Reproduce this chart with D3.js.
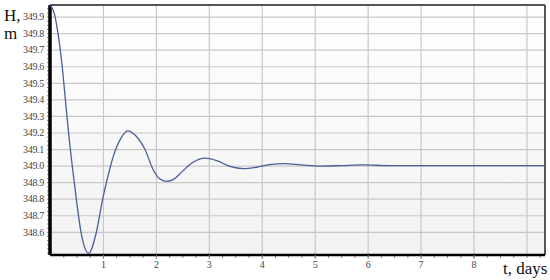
<!DOCTYPE html>
<html>
<head>
<meta charset="utf-8">
<script src="https://cdn.jsdelivr.net/npm/d3@7"></script>
<style>
  body { margin: 0; background: #fff; }
  svg { display: block; }
</style>
</head>
<body>
<svg id="plot"></svg>
<script>
// water level H (m) vs time t (days)
var days = [0, 0.08, 0.15, 0.23, 0.29, 0.35, 0.42, 0.50, 0.59, 0.73, 0.87, 0.99, 1.09, 1.2, 1.33, 1.47,
            1.62, 1.79, 1.95, 2.07, 2.2, 2.35, 2.5, 2.7, 2.93, 3.15, 3.4, 3.65, 3.9, 4.15, 4.42,
            4.75, 5.1, 5.5, 5.9, 6.4, 7, 8, 9.35];
var level = [349.97, 349.92, 349.80, 349.60, 349.40, 349.20, 349.00, 348.79, 348.59, 348.47, 348.59, 348.79, 348.93, 349.06, 349.16, 349.21,
             349.18, 349.10, 348.975, 348.92, 348.905, 348.92, 348.965, 349.02, 349.045, 349.03, 348.995, 348.982, 348.99, 349.006, 349.012,
             349.004, 348.997, 349.0, 349.004, 349.0, 349.0, 349.0, 349.0];
var xGrid = [1, 2, 3, 4, 5, 6, 7, 8, 9];
var xLabels = [1, 2, 3, 4, 5, 6, 7, 8];
var yTicks = [348.6, 348.7, 348.8, 348.9, 349.0, 349.1, 349.2, 349.3, 349.4, 349.5, 349.6, 349.7, 349.8, 349.9];

var w = 550, h = 280;
var mLeft = 50, mRight = 545, mTop = 5, mBottom = 255;

var svg = d3.select("#plot").attr("width", w).attr("height", h);

var xScale = d3.scaleLinear().domain([0, 9.35]).range([mLeft, mRight]);
var yScale = d3.scaleLinear().domain([348.46, 349.97]).range([mBottom, mTop]);

// plot background
var grad = svg.append("defs").append("linearGradient")
  .attr("id", "bg").attr("x1", 0).attr("y1", 0).attr("x2", 0).attr("y2", 1);
grad.append("stop").attr("offset", "0%").attr("stop-color", "#ffffff");
grad.append("stop").attr("offset", "100%").attr("stop-color", "#f2f2f2");
svg.append("rect")
  .attr("x", mLeft).attr("y", mTop)
  .attr("width", mRight - mLeft).attr("height", mBottom - mTop)
  .attr("fill", "url(#bg)");

// grid
svg.append("g").attr("class", "grid")
  .attr("transform", "translate(0," + mBottom + ")")
  .call(d3.axisBottom(xScale).tickValues(xGrid).tickSize(-(mBottom - mTop)).tickFormat(""))
  .call(function(g) {
    g.select(".domain").remove();
    g.selectAll("line").attr("stroke", "#c8c8c8").attr("stroke-width", 1.2);
  });
svg.append("g").attr("class", "grid")
  .attr("transform", "translate(" + mLeft + ",0)")
  .call(d3.axisLeft(yScale).tickValues(yTicks).tickSize(-(mRight - mLeft)).tickFormat(""))
  .call(function(g) {
    g.select(".domain").remove();
    g.selectAll("line").attr("stroke", "#c8c8c8").attr("stroke-width", 1.2);
  });

// top and right frame
svg.append("line").attr("x1", mLeft).attr("x2", mRight).attr("y1", mTop).attr("y2", mTop)
  .attr("stroke", "#555").attr("stroke-width", 2);
svg.append("line").attr("x1", mRight).attr("x2", mRight).attr("y1", mTop).attr("y2", mBottom)
  .attr("stroke", "#555").attr("stroke-width", 2);

// minor ticks
var xMinor = d3.range(0.25, 9.35, 0.25);
var yMinor = d3.range(348.475, 349.97, 0.025);
svg.append("g")
  .attr("transform", "translate(0," + mBottom + ")")
  .call(d3.axisBottom(xScale).tickValues(xMinor).tickSize(3).tickFormat(""))
  .call(function(g) {
    g.select(".domain").remove();
    g.selectAll("line").attr("stroke", "#888");
  });
svg.append("g")
  .attr("transform", "translate(" + mLeft + ",0)")
  .call(d3.axisLeft(yScale).tickValues(yMinor).tickSize(3).tickFormat(""))
  .call(function(g) {
    g.select(".domain").remove();
    g.selectAll("line").attr("stroke", "#888");
  });

// main axes
var xAxis = svg.append("g")
  .attr("transform", "translate(0," + mBottom + ")")
  .call(d3.axisBottom(xScale).tickValues(xLabels).tickSize(4).tickPadding(2));
xAxis.select(".domain").attr("stroke", "#000").attr("stroke-width", 2.5)
  .attr("d", "M" + mLeft + ",0H" + mRight);
xAxis.selectAll("line").attr("stroke", "#888");
xAxis.selectAll("text").attr("font-family", "Liberation Serif").attr("font-size", 10).attr("fill", "#444");

var yAxis = svg.append("g")
  .attr("transform", "translate(" + mLeft + ",0)")
  .call(d3.axisLeft(yScale).tickValues(yTicks).tickSize(0).tickPadding(6).tickFormat(d3.format(".1f")));
yAxis.select(".domain").attr("stroke", "#000").attr("stroke-width", 3.5)
  .attr("d", "M0," + mTop + "V" + mBottom);
yAxis.selectAll("text").attr("font-family", "Liberation Serif").attr("font-size", 10)
  .attr("letter-spacing", -0.3).attr("fill", "#444");

// curve
var pts = days.map(function(d, i) { return [d, level[i]]; });
var line = d3.line()
  .x(function(d) { return xScale(d[0]); })
  .y(function(d) { return yScale(d[1]); })
  .curve(d3.curveMonotoneX);
svg.append("path")
  .datum(pts)
  .attr("d", line)
  .attr("fill", "none")
  .attr("stroke", "#4a5e98")
  .attr("stroke-width", 1.3);

// axis titles
svg.append("text").attr("x", 4).attr("y", 21).text("H,")
  .attr("font-family", "Liberation Serif").attr("font-size", 17).attr("fill", "#111");
svg.append("text").attr("x", 4).attr("y", 39).text("m")
  .attr("font-family", "Liberation Serif").attr("font-size", 17).attr("fill", "#111");
svg.append("text").attr("x", 503).attr("y", 274).text("t, days")
  .attr("font-family", "Liberation Serif").attr("font-size", 17).attr("fill", "#111");
</script>
</body>
</html>
